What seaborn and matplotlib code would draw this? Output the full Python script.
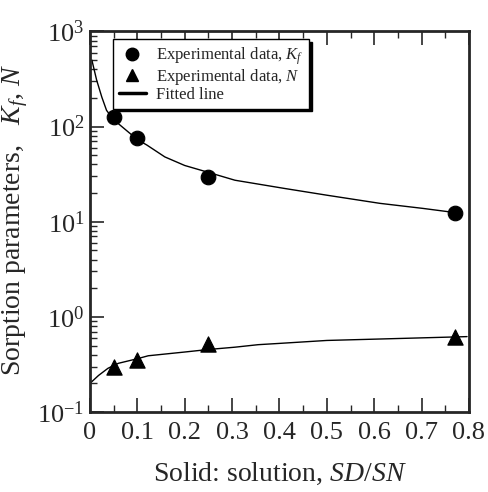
import matplotlib
matplotlib.use("Agg")
import matplotlib.pyplot as plt
import seaborn as sns
import pandas as pd
from matplotlib.ticker import LogLocator, LogFormatterMathtext, MultipleLocator, NullFormatter
from matplotlib.lines import Line2D

# ---- data ----
ratio_pts = [0.05, 0.10, 0.25, 0.77]
kf_pts = [126, 76, 29.5, 12.3]
n_pts = [0.295, 0.355, 0.52, 0.61]

kf_fit_x = [0.004, 0.014, 0.025, 0.035, 0.05, 0.10, 0.12, 0.158, 0.20, 0.25, 0.306, 0.41, 0.50, 0.612, 0.703, 0.78]
kf_fit_y = [500, 309, 204, 148, 118, 73, 64, 48, 39, 33, 27.3, 22.4, 19.0, 15.6, 13.8, 12.3]

n_fit_x = [0.0, 0.018, 0.038, 0.06, 0.10, 0.123, 0.20, 0.25, 0.306, 0.355, 0.397, 0.50, 0.655, 0.796]
n_fit_y = [0.20, 0.242, 0.288, 0.325, 0.363, 0.39, 0.427, 0.454, 0.48, 0.51, 0.525, 0.565, 0.593, 0.62]

x_ticks = [0, 0.1, 0.2, 0.3, 0.4, 0.5, 0.6, 0.7, 0.8]
x_tick_labels = ["0", "0.1", "0.2", "0.3", "0.4", "0.5", "0.6", "0.7", "0.8"]

sns.set_style("ticks")
plt.rcParams["font.family"] = ["Liberation Serif", "DejaVu Serif"]
plt.rcParams["mathtext.fontset"] = "custom"
plt.rcParams["mathtext.rm"] = "Liberation Serif"
plt.rcParams["mathtext.it"] = "Liberation Serif:italic"

fig = plt.figure(figsize=(4.89, 4.92), dpi=100)
ax = fig.add_axes([0.184, 0.1626, 0.775, 0.7735])

df_pts = pd.DataFrame({"x": ratio_pts, "kf": kf_pts, "n": n_pts})
df_kf = pd.DataFrame({"x": kf_fit_x, "y": kf_fit_y})
df_n = pd.DataFrame({"x": n_fit_x, "y": n_fit_y})

sns.lineplot(data=df_kf, x="x", y="y", ax=ax, color="black", lw=1.0, sort=True, estimator=None)
sns.lineplot(data=df_n, x="x", y="y", ax=ax, color="black", lw=1.0, sort=True, estimator=None)
sns.scatterplot(data=df_pts, x="x", y="kf", ax=ax, marker="o", s=110, color="black", edgecolor="black", zorder=5)
sns.scatterplot(data=df_pts, x="x", y="n", ax=ax, marker="^", s=120, color="black", edgecolor="black", zorder=5)

ax.set_yscale("log")
ax.set_xlim(0, 0.8)
ax.set_ylim(0.1, 1000)

ax.set_xticks(x_ticks)
ax.set_xticklabels(x_tick_labels)
ax.xaxis.set_minor_locator(MultipleLocator(0.05))
ax.yaxis.set_major_locator(LogLocator(base=10, numticks=10))
ax.yaxis.set_major_formatter(LogFormatterMathtext())
ax.yaxis.set_minor_locator(LogLocator(base=10, subs=range(2, 10), numticks=20))
ax.yaxis.set_minor_formatter(NullFormatter())

ax.tick_params(axis="x", which="both", direction="in", top=True, bottom=True, labelsize=19, pad=7)
ax.tick_params(axis="y", which="both", direction="in", left=True, right=False, labelsize=19, pad=4)
ax.tick_params(which="major", length=10, width=1.2)
ax.tick_params(which="minor", length=5, width=1.0)

for sp in ax.spines.values():
    sp.set_linewidth(2.0)
    sp.set_visible(True)

ax.set_xlabel("Solid: solution, $SD$/$SN$", fontsize=20, labelpad=12)
ax.set_ylabel("Sorption parameters,   $K_f$, $N$", fontsize=20)
ax.yaxis.set_label_coords(-0.158, 0.505)

handles = [
    Line2D([], [], marker="o", color="black", ls="none", markersize=9),
    Line2D([], [], marker="^", color="black", ls="none", markersize=9),
    Line2D([], [], color="black", lw=2.5),
]
labels = ["Experimental data, $K_f$", "Experimental data, $N$", "Fitted line"]
leg = ax.legend(handles, labels, loc="upper left", bbox_to_anchor=(0.061, 0.979),
                borderaxespad=0, fontsize=12, frameon=True, fancybox=False,
                edgecolor="black", framealpha=1, handlelength=1.6, handletextpad=0.6,
                labelspacing=0.0, borderpad=0.35,
                shadow={"color": "black", "alpha": 1})
leg.get_frame().set_linewidth(1.0)

fig.savefig("out.png", dpi=100)
